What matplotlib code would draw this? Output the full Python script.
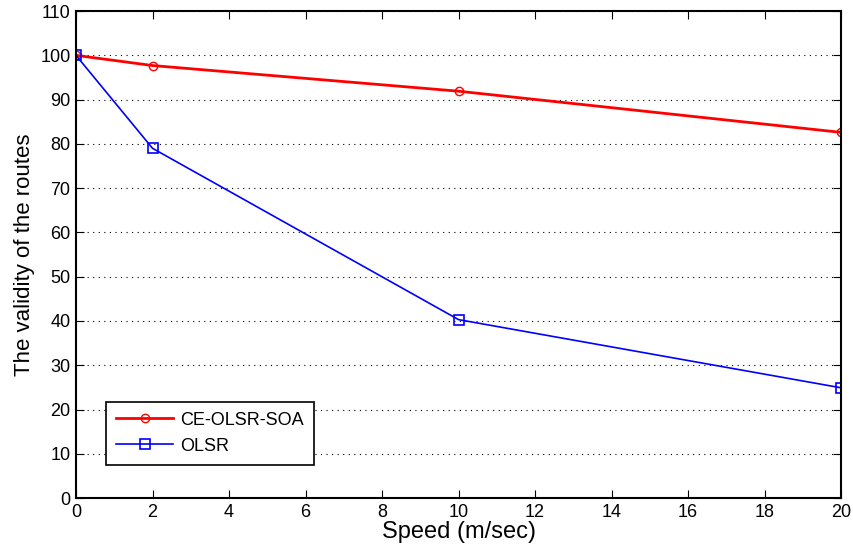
import matplotlib
matplotlib.use('Agg')
import matplotlib.pyplot as plt

plt.rcParams['font.family'] = ['Liberation Sans', 'DejaVu Sans']

speed = [0, 2, 10, 20]
ce_olsr_soa = [100, 97.7, 91.9, 82.6]
olsr = [100, 79, 40.3, 24.9]

fig = plt.figure(figsize=(8.54, 5.54), dpi=100)
ax = fig.add_axes([0.089, 0.101, 0.896, 0.879])

ax.plot(speed, ce_olsr_soa, color='red', linewidth=2, marker='o', markersize=6,
        markerfacecolor='none', markeredgewidth=1, label='CE-OLSR-SOA')
ax.plot(speed, olsr, color='blue', linewidth=1.2, marker='s', markersize=7,
        markerfacecolor='none', markeredgewidth=1.2, label='OLSR')

ax.set_xlim(0, 20)
ax.set_ylim(0, 110)
ax.set_xticks(range(0, 21, 2))
ax.set_yticks(range(0, 111, 10))
ax.yaxis.grid(True, linestyle=(0, (1, 4)), color='black', linewidth=0.8)
ax.tick_params(direction='in', top=True, right=True, labelsize=13, length=6, pad=4)
for s in ax.spines.values():
    s.set_linewidth(1.5)

ax.set_xlabel('Speed (m/sec)', fontsize=17, labelpad=0)
ax.set_ylabel('The validity of the routes', fontsize=16, labelpad=4)

leg = ax.legend(loc='lower left', bbox_to_anchor=(0.027, 0.05), fontsize=13,
                fancybox=False, edgecolor='black', framealpha=1, handlelength=3.2,
                handletextpad=0.4, borderpad=0.55, labelspacing=0.5)
leg.get_frame().set_linewidth(1.2)

fig.savefig('out.png', dpi=100)
